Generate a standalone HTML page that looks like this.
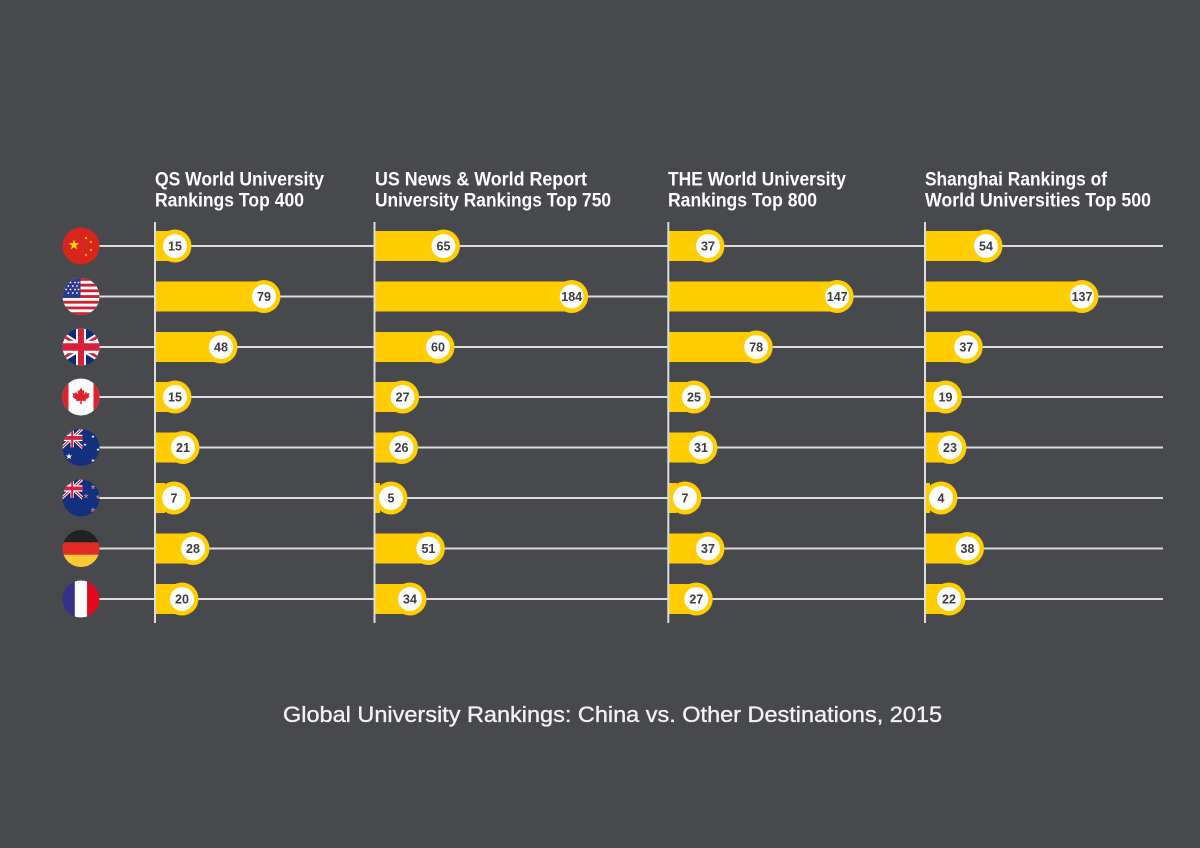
<!DOCTYPE html>
<html>
<head>
<meta charset="utf-8">
<style>
  html, body { margin:0; padding:0; background:#48494d; }
  body { width:1200px; height:848px; overflow:hidden; }
  svg { display:block; }
</style>
</head>
<body>
<svg width="1200" height="848" viewBox="0 0 1200 848" xmlns="http://www.w3.org/2000/svg">
  <defs>
    <clipPath id="fc"><circle cx="0" cy="0" r="18.5"/></clipPath>
    <path id="st" d="M0,-1 L0.2245,-0.309 L0.951,-0.309 L0.363,0.118 L0.588,0.809 L0,0.382 L-0.588,0.809 L-0.363,0.118 L-0.951,-0.309 L-0.2245,-0.309 Z"/>
    <g id="uj">
      <rect x="0" y="0" width="60" height="30" fill="#0b2a78"/>
      <path d="M0,0 L60,30 M60,0 L0,30" stroke="#fff" stroke-width="6"/>
      <path d="M0,0 L60,30 M60,0 L0,30" stroke="#d8203a" stroke-width="2.4"/>
      <path d="M30,0 V30 M0,15 H60" stroke="#fff" stroke-width="10"/>
      <path d="M30,0 V30 M0,15 H60" stroke="#d8203a" stroke-width="6"/>
    </g>
  </defs>

  <rect x="0" y="0" width="1200" height="848" fill="#48494d"/>

  <!-- Headers -->
  <g font-family="Liberation Sans, Arial, sans-serif" font-weight="bold" font-size="19.5" fill="#ffffff">
    <text x="155" y="185.5" textLength="169" lengthAdjust="spacingAndGlyphs">QS World University</text>
    <text x="155" y="206.7" textLength="149" lengthAdjust="spacingAndGlyphs">Rankings Top 400</text>
    <text x="375" y="185.5" textLength="212" lengthAdjust="spacingAndGlyphs">US News &amp; World Report</text>
    <text x="375" y="206.7" textLength="236" lengthAdjust="spacingAndGlyphs">University Rankings Top 750</text>
    <text x="668" y="185.5" textLength="178" lengthAdjust="spacingAndGlyphs">THE World University</text>
    <text x="668" y="206.7" textLength="149" lengthAdjust="spacingAndGlyphs">Rankings Top 800</text>
    <text x="925" y="185.5" textLength="182" lengthAdjust="spacingAndGlyphs">Shanghai Rankings of</text>
    <text x="925" y="206.7" textLength="226" lengthAdjust="spacingAndGlyphs">World Universities Top 500</text>
  </g>

  <!-- Horizontal lines -->
  <g stroke="#dcdcdc" stroke-width="2">
    <line x1="99" y1="246" x2="1163" y2="246"/>
    <line x1="99" y1="296.5" x2="1163" y2="296.5"/>
    <line x1="99" y1="347" x2="1163" y2="347"/>
    <line x1="99" y1="397" x2="1163" y2="397"/>
    <line x1="99" y1="447.5" x2="1163" y2="447.5"/>
    <line x1="99" y1="498" x2="1163" y2="498"/>
    <line x1="99" y1="548.5" x2="1163" y2="548.5"/>
    <line x1="99" y1="599" x2="1163" y2="599"/>
  </g>

  <!-- Bars -->
  <g fill="#ffcd00">
    <rect x="155" y="231" width="20" height="30"/><circle cx="175" cy="246" r="16.5"/>
    <rect x="155" y="281.5" width="109" height="30"/><circle cx="264" cy="296.5" r="16.5"/>
    <rect x="155" y="332" width="66" height="30"/><circle cx="221" cy="347" r="16.5"/>
    <rect x="155" y="382" width="20" height="30"/><circle cx="175" cy="397" r="16.5"/>
    <rect x="155" y="432.5" width="28" height="30"/><circle cx="183" cy="447.5" r="16.5"/>
    <rect x="155" y="483" width="10" height="30"/><circle cx="174" cy="498" r="16.5"/>
    <rect x="155" y="533.5" width="38" height="30"/><circle cx="193" cy="548.5" r="16.5"/>
    <rect x="155" y="584" width="27" height="30"/><circle cx="182" cy="599" r="16.5"/>
    <rect x="374.5" y="231" width="69" height="30"/><circle cx="443.5" cy="246" r="16.5"/>
    <rect x="374.5" y="281.5" width="197.2" height="30"/><circle cx="571.7" cy="296.5" r="16.5"/>
    <rect x="374.5" y="332" width="63.5" height="30"/><circle cx="438" cy="347" r="16.5"/>
    <rect x="374.5" y="382" width="28.1" height="30"/><circle cx="402.6" cy="397" r="16.5"/>
    <rect x="374.5" y="432.5" width="27" height="30"/><circle cx="401.5" cy="447.5" r="16.5"/>
    <rect x="374.5" y="483" width="5.5" height="30"/><circle cx="391" cy="498" r="16.5"/>
    <rect x="374.5" y="533.5" width="53.9" height="30"/><circle cx="428.4" cy="548.5" r="16.5"/>
    <rect x="374.5" y="584" width="35.5" height="30"/><circle cx="410" cy="599" r="16.5"/>
    <rect x="668.3" y="231" width="39.7" height="30"/><circle cx="708" cy="246" r="16.5"/>
    <rect x="668.3" y="281.5" width="168.9" height="30"/><circle cx="837.2" cy="296.5" r="16.5"/>
    <rect x="668.3" y="332" width="87.9" height="30"/><circle cx="756.2" cy="347" r="16.5"/>
    <rect x="668.3" y="382" width="25.7" height="30"/><circle cx="694" cy="397" r="16.5"/>
    <rect x="668.3" y="432.5" width="32.7" height="30"/><circle cx="701" cy="447.5" r="16.5"/>
    <rect x="668.3" y="483" width="8.5" height="30"/><circle cx="685" cy="498" r="16.5"/>
    <rect x="668.3" y="533.5" width="39.7" height="30"/><circle cx="708" cy="548.5" r="16.5"/>
    <rect x="668.3" y="584" width="28" height="30"/><circle cx="696.3" cy="599" r="16.5"/>
    <rect x="925" y="231" width="61" height="30"/><circle cx="986" cy="246" r="16.5"/>
    <rect x="925" y="281.5" width="157" height="30"/><circle cx="1082" cy="296.5" r="16.5"/>
    <rect x="925" y="332" width="41.3" height="30"/><circle cx="966.3" cy="347" r="16.5"/>
    <rect x="925" y="382" width="20.5" height="30"/><circle cx="945.5" cy="397" r="16.5"/>
    <rect x="925" y="432.5" width="25" height="30"/><circle cx="950" cy="447.5" r="16.5"/>
    <rect x="925" y="483" width="5" height="30"/><circle cx="941" cy="498" r="16.5"/>
    <rect x="925" y="533.5" width="42.5" height="30"/><circle cx="967.5" cy="548.5" r="16.5"/>
    <rect x="925" y="584" width="24" height="30"/><circle cx="949" cy="599" r="16.5"/>
  </g>

  <!-- Axis lines -->
  <g stroke="#dcdcdc" stroke-width="2">
    <line x1="155" y1="222" x2="155" y2="623"/>
    <line x1="374.5" y1="222" x2="374.5" y2="623"/>
    <line x1="668.3" y1="222" x2="668.3" y2="623"/>
    <line x1="925" y1="222" x2="925" y2="623"/>
  </g>

  <!-- White inner circles -->
  <g fill="#ffffff">
    <circle cx="175" cy="246" r="12"/><circle cx="264" cy="296.5" r="12"/><circle cx="221" cy="347" r="12"/><circle cx="175" cy="397" r="12"/>
    <circle cx="183" cy="447.5" r="12"/><circle cx="174" cy="498" r="12"/><circle cx="193" cy="548.5" r="12"/><circle cx="182" cy="599" r="12"/>
    <circle cx="443.5" cy="246" r="12"/><circle cx="571.7" cy="296.5" r="12"/><circle cx="438" cy="347" r="12"/><circle cx="402.6" cy="397" r="12"/>
    <circle cx="401.5" cy="447.5" r="12"/><circle cx="391" cy="498" r="12"/><circle cx="428.4" cy="548.5" r="12"/><circle cx="410" cy="599" r="12"/>
    <circle cx="708" cy="246" r="12"/><circle cx="837.2" cy="296.5" r="12"/><circle cx="756.2" cy="347" r="12"/><circle cx="694" cy="397" r="12"/>
    <circle cx="701" cy="447.5" r="12"/><circle cx="685" cy="498" r="12"/><circle cx="708" cy="548.5" r="12"/><circle cx="696.3" cy="599" r="12"/>
    <circle cx="986" cy="246" r="12"/><circle cx="1082" cy="296.5" r="12"/><circle cx="966.3" cy="347" r="12"/><circle cx="945.5" cy="397" r="12"/>
    <circle cx="950" cy="447.5" r="12"/><circle cx="941" cy="498" r="12"/><circle cx="967.5" cy="548.5" r="12"/><circle cx="949" cy="599" r="12"/>
  </g>

  <!-- Value labels -->
  <g font-family="Liberation Sans, Arial, sans-serif" font-weight="bold" font-size="12.5" fill="#3d3d40" text-anchor="middle">
    <text x="175" y="250.5">15</text><text x="264" y="301">79</text><text x="221" y="351.5">48</text><text x="175" y="401.5">15</text>
    <text x="183" y="452">21</text><text x="174" y="502.5">7</text><text x="193" y="553">28</text><text x="182" y="603.5">20</text>
    <text x="443.5" y="250.5">65</text><text x="571.7" y="301">184</text><text x="438" y="351.5">60</text><text x="402.6" y="401.5">27</text>
    <text x="401.5" y="452">26</text><text x="391" y="502.5">5</text><text x="428.4" y="553">51</text><text x="410" y="603.5">34</text>
    <text x="708" y="250.5">37</text><text x="837.2" y="301">147</text><text x="756.2" y="351.5">78</text><text x="694" y="401.5">25</text>
    <text x="701" y="452">31</text><text x="685" y="502.5">7</text><text x="708" y="553">37</text><text x="696.3" y="603.5">27</text>
    <text x="986" y="250.5">54</text><text x="1082" y="301">137</text><text x="966.3" y="351.5">37</text><text x="945.5" y="401.5">19</text>
    <text x="950" y="452">23</text><text x="941" y="502.5">4</text><text x="967.5" y="553">38</text><text x="949" y="603.5">22</text>
  </g>

  <!-- Flags -->
  <g transform="translate(81,246)">
    <g clip-path="url(#fc)">
      <rect x="-20" y="-20" width="40" height="40" fill="#d8261d"/>
      <use href="#st" transform="translate(-7,-1) scale(5.5)" fill="#ffde00"/>
      <use href="#st" transform="translate(5,-8) rotate(20) scale(1.8)" fill="#ffde00"/>
      <use href="#st" transform="translate(10,-4) rotate(45) scale(1.8)" fill="#ffde00"/>
      <use href="#st" transform="translate(10,4) scale(1.8)" fill="#ffde00"/>
      <use href="#st" transform="translate(5,9) rotate(20) scale(1.8)" fill="#ffde00"/>
    </g>
  </g>
  <g transform="translate(81,296.5)">
    <g clip-path="url(#fc)">
      <rect x="-20" y="-20" width="40" height="40" fill="#ffffff"/>
      <g fill="#d0202f">
        <rect x="-20" y="-18.5" width="40" height="2.85"/>
        <rect x="-20" y="-12.8" width="40" height="2.85"/>
        <rect x="-20" y="-7.1" width="40" height="2.85"/>
        <rect x="-20" y="-1.4" width="40" height="2.85"/>
        <rect x="-20" y="4.3" width="40" height="2.85"/>
        <rect x="-20" y="10.0" width="40" height="2.85"/>
        <rect x="-20" y="15.7" width="40" height="4"/>
      </g>
      <rect x="-20" y="-20" width="19.5" height="21.4" fill="#2b3a8c"/>
      <g fill="#ffffff">
        <circle cx="-15" cy="-14" r="0.9"/><circle cx="-10.5" cy="-14" r="0.9"/><circle cx="-6" cy="-14" r="0.9"/><circle cx="-2.5" cy="-14" r="0.9"/>
        <circle cx="-12.7" cy="-10.5" r="0.9"/><circle cx="-8.2" cy="-10.5" r="0.9"/><circle cx="-4" cy="-10.5" r="0.9"/>
        <circle cx="-15" cy="-7" r="0.9"/><circle cx="-10.5" cy="-7" r="0.9"/><circle cx="-6" cy="-7" r="0.9"/><circle cx="-2.5" cy="-7" r="0.9"/>
        <circle cx="-12.7" cy="-3.5" r="0.9"/><circle cx="-8.2" cy="-3.5" r="0.9"/><circle cx="-4" cy="-3.5" r="0.9"/>
      </g>
    </g>
  </g>
  <g transform="translate(81,347)">
    <g clip-path="url(#fc)">
      <use href="#uj" transform="translate(-30,-18.5) scale(1,1.2333)"/>
    </g>
  </g>
  <g transform="translate(81,397)">
    <g clip-path="url(#fc)">
      <rect x="-20" y="-20" width="40" height="40" fill="#ffffff"/>
      <rect x="-20" y="-20" width="7.5" height="40" fill="#e0202a"/>
      <rect x="12.5" y="-20" width="7.5" height="40" fill="#e0202a"/>
      <path transform="translate(0,-1) scale(0.85)" fill="#e0202a" d="M0,-10 L2,-6 L4,-7 L3.2,-1.8 L6,-4.8 L7,-3 L10,-3.6 L9,0 L10.4,0.8 L5.2,4.4 L5.8,6.2 L0.8,5.4 L0.9,9.5 L-0.9,9.5 L-0.8,5.4 L-5.8,6.2 L-5.2,4.4 L-10.4,0.8 L-9,0 L-10,-3.6 L-7,-3 L-6,-4.8 L-3.2,-1.8 L-4,-7 L-2,-6 Z"/>
    </g>
  </g>
  <g transform="translate(81,447.5)">
    <g clip-path="url(#fc)">
      <rect x="-20" y="-20" width="40" height="40" fill="#13307f"/>
      <use href="#uj" transform="translate(-19,-19) scale(0.34,0.63)"/>
      <use href="#st" transform="translate(-12,9) scale(3.4)" fill="#ffffff"/>
      <use href="#st" transform="translate(4,-3) scale(1.8)" fill="#ffffff"/>
      <use href="#st" transform="translate(12,-11) scale(1.8)" fill="#ffffff"/>
      <use href="#st" transform="translate(17,2) scale(1.8)" fill="#ffffff"/>
      <use href="#st" transform="translate(12,13) scale(2)" fill="#ffffff"/>
    </g>
  </g>
  <g transform="translate(81,498)">
    <g clip-path="url(#fc)">
      <rect x="-20" y="-20" width="40" height="40" fill="#13307f"/>
      <use href="#uj" transform="translate(-19,-19) scale(0.34,0.63)"/>
      <use href="#st" transform="translate(12,-11) scale(2.4)" fill="#ffffff"/>
      <use href="#st" transform="translate(12,-11) scale(1.6)" fill="#d8203a"/>
      <use href="#st" transform="translate(5,-2) scale(2.4)" fill="#ffffff"/>
      <use href="#st" transform="translate(5,-2) scale(1.6)" fill="#d8203a"/>
      <use href="#st" transform="translate(17,-1) scale(2.2)" fill="#ffffff"/>
      <use href="#st" transform="translate(17,-1) scale(1.5)" fill="#d8203a"/>
      <use href="#st" transform="translate(12,12) scale(2.6)" fill="#ffffff"/>
      <use href="#st" transform="translate(12,12) scale(1.8)" fill="#d8203a"/>
    </g>
  </g>
  <g transform="translate(81,548.5)">
    <g clip-path="url(#fc)">
      <rect x="-20" y="-20" width="40" height="14" fill="#222222"/>
      <rect x="-20" y="-6.2" width="40" height="12.4" fill="#e02b27"/>
      <rect x="-20" y="6.2" width="40" height="14" fill="#ffc933"/>
    </g>
  </g>
  <g transform="translate(81,599)">
    <g clip-path="url(#fc)">
      <rect x="-20" y="-20" width="14" height="40" fill="#35308a"/>
      <rect x="-6.2" y="-20" width="12.4" height="40" fill="#ffffff"/>
      <rect x="6.2" y="-20" width="14" height="40" fill="#e3081b"/>
    </g>
  </g>

  <!-- Title -->
  <text x="283" y="722" font-family="Liberation Sans, Arial, sans-serif" font-size="22" fill="#f2f2f2" stroke="#f2f2f2" stroke-width="0.35" textLength="659" lengthAdjust="spacingAndGlyphs">Global University Rankings: China vs. Other Destinations, 2015</text>
</svg>
</body>
</html>
